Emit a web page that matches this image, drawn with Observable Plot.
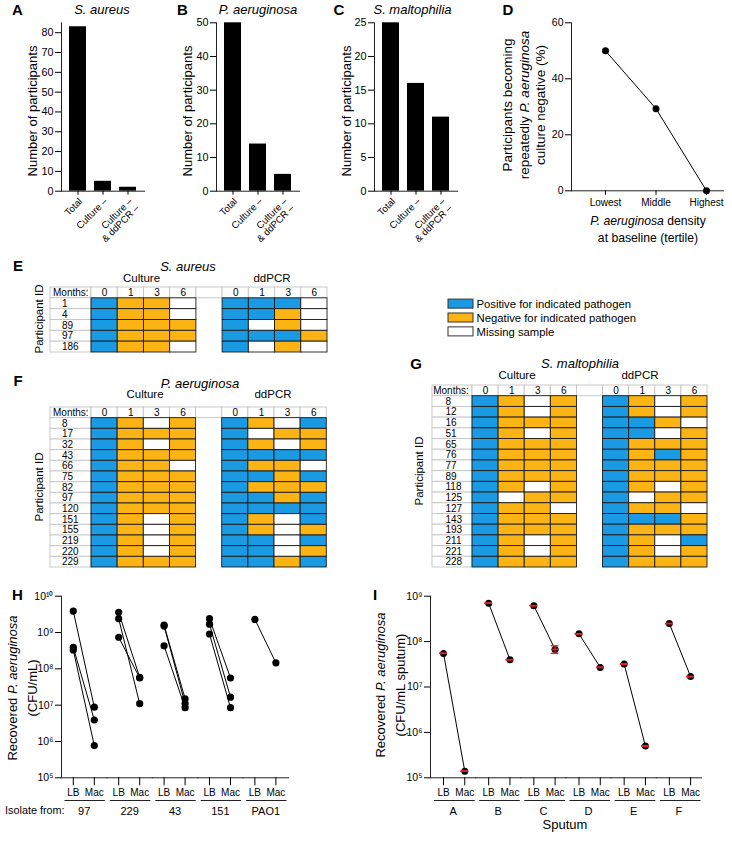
<!DOCTYPE html>
<html><head><meta charset="utf-8">
<script src="https://cdn.jsdelivr.net/npm/d3@7"></script>
<script src="https://cdn.jsdelivr.net/npm/@observablehq/plot@0.6"></script>
<style>
body{margin:0;background:#fff;}
#root{position:relative;width:732px;height:841px;overflow:hidden;background:#fff;font-family:"Liberation Sans",Arial,Helvetica,sans-serif;color:#000;}
.t{position:absolute;white-space:nowrap;transform:translate(-50%,-50%);line-height:1.2;text-align:center;}
.p{position:absolute;}
</style></head><body><div id="root"></div>
<script>
// ---------- data ----------
const barCats = ["Total", "Culture –", "Culture –\n& ddPCR –"];
const saureusCounts = [83, 5, 2];
const paeruginosaCounts = [50, 14, 5];
const smaltophiliaCounts = [25, 16, 11];
const aTicks = [0, 10, 20, 30, 40, 50, 60, 70, 80];
const bTicks = [0, 10, 20, 30, 40, 50];
const cTicks = [0, 5, 10, 15, 20, 25];

const tertiles = ["Lowest", "Middle", "Highest"];
const cultureNegPct = [50, 29.3, 0];
const dTicks = [0, 20, 40, 60];

const months = ["0", "1", "3", "6"];
const statusLabels = ["Positive for indicated pathogen", "Negative for indicated pathogen", "Missing sample"];
// P = positive, N = negative, M = missing ; months 0,1,3,6
const eIds = ["1", "4", "89", "97", "186"];
const eCulture = ["PNNM", "PNNM", "PNNN", "PNNN", "PNNM"];
const eDdpcr = ["PPPM", "PPNM", "PMNM", "PPPN", "PMNM"];
const fIds = ["8", "17", "32", "43", "66", "75", "82", "97", "120", "151", "155", "219", "220", "229"];
const fCulture = ["PNMN", "PNNN", "PNMN", "PNNN", "PNNM", "PNNN", "PNNN", "PNNN", "PNNN", "PNMN", "PNMN", "PNMN", "PNMN", "PNNN"];
const fDdpcr = ["PNMP", "PMNN", "PNMN", "PPPP", "PNNM", "PPNP", "PNNN", "PPNP", "PPPP", "PNMP", "PNMN", "PPMP", "PPMN", "PPNP"];
const gIds = ["8", "12", "16", "51", "65", "76", "77", "89", "118", "125", "127", "143", "193", "211", "221", "228"];
const gCulture = ["PNMN", "PNMN", "PNNN", "PNMN", "PNNN", "PNNN", "PNNN", "PNNN", "PNMN", "PMNN", "PNNM", "PNNN", "PNNN", "PNMN", "PNMN", "PNNN"];
const gDdpcr = ["PNMN", "PNMN", "PPNM", "PPMN", "PNNN", "PNPN", "PNNN", "PNNN", "PNMN", "PMNN", "PNNM", "PPPN", "PNNN", "PNMP", "PNMN", "PNNN"];

const media = ["LB", "Mac"];
const hGroups = ["97", "229", "43", "151", "PAO1"];
const hLB = [[3.9e9, 3.9e8, 3.3e8], [3.6e9, 2.4e9, 7.4e8], [1.6e9, 1.5e9, 4.3e8], [2.4e9, 1.7e9, 9.1e8], [2.3e9]];
const hMac = [[8.8e6, 3.9e6, 7.7e5], [5.8e7, 1.1e7, 5.6e7], [1.5e7, 1.1e7, 8.5e6], [5.6e7, 1.66e7, 8.5e6], [1.46e8]];
const hTicks = [1e5, 1e6, 1e7, 1e8, 1e9, 1e10];

const iGroups = ["A", "B", "C", "D", "E", "F"];
const iLB = [5.5e7, 7.0e8, 6.2e8, 1.48e8, 3.2e7, 2.5e8];
const iMac = [1.4e5, 4.0e7, 6.7e7, 2.7e7, 5.0e5, 1.7e7];
const iMacLo = [1.4e5, 4.0e7, 5.5e7, 2.7e7, 5.0e5, 1.7e7];
const iMacHi = [1.4e5, 4.0e7, 8.1e7, 2.7e7, 5.0e5, 1.7e7];
const iTicks = [1e5, 1e6, 1e7, 1e8, 1e9];

// ---------- styles ----------
const FONT = '"Liberation Sans", Arial, Helvetica, sans-serif';
const BLUE = "#1a9ae3", ORANGE = "#fcb414", RED = "#e8202a";
const baseStyle = {fontFamily: FONT, fontSize: "10px", background: "transparent", overflow: "visible", maxWidth: "none", color: "black"};
const root = document.getElementById("root");

function place(node, left, top) {
  const d = document.createElement("div");
  d.className = "p"; d.style.left = left + "px"; d.style.top = top + "px";
  d.appendChild(node); root.appendChild(d);
}
function txt(html, x, y, o = {}) {
  const d = document.createElement("div");
  d.className = "t"; d.style.left = x + "px"; d.style.top = y + "px";
  d.style.fontSize = (o.size || 12) + "px";
  if (o.bold) d.style.fontWeight = "bold";
  if (o.italic) d.style.fontStyle = "italic";
  if (o.rot) d.style.transform = "translate(-50%,-50%) rotate(-90deg)";
  if (o.lh) d.style.lineHeight = o.lh + "px";
  d.innerHTML = html; root.appendChild(d);
}
const SUP = "⁰¹²³⁴⁵⁶⁷⁸⁹";
const supFmt = d => "10" + String(Math.round(Math.log10(d))).split("").map(c => SUP[+c]).join("");

// ---------- A, B, C bar panels ----------
function barPanel(counts, ymax, ticks) {
  const data = barCats.map((c, i) => ({c, n: counts[i]}));
  return Plot.plot({
    width: 150, height: 245, marginLeft: 61, marginRight: 6, marginTop: 22.3, marginBottom: 54.3,
    style: baseStyle,
    x: {domain: barCats, padding: 0.32, round: false, label: null},
    y: {domain: [0, ymax], label: null},
    marks: [
      Plot.barY(data, {x: "c", y: "n", fill: "black"}),
      Plot.frame({anchor: "left", stroke: "#222"}),
      Plot.frame({anchor: "bottom", stroke: "#222"}),
      Plot.axisY({ticks, tickSize: 6, tickPadding: 2, fontSize: 10.8, label: null}),
      Plot.axisX({tickSize: 4, tickPadding: 2, tickRotate: -45, textAnchor: "end", lineAnchor: "top", fontSize: 9.6, label: null})
    ]
  });
}
place(barPanel(saureusCounts, 85, aTicks), 0, 0);
place(barPanel(paeruginosaCounts, 50, bTicks), 155, 0);
place(barPanel(smaltophiliaCounts, 25, cTicks), 313, 0);

txt("A", 17.5, 10, {size: 15, bold: true});
txt("B", 182.5, 10, {size: 15, bold: true});
txt("C", 339, 10, {size: 15, bold: true});
txt("D", 508, 10, {size: 15, bold: true});
txt("S. aureus", 102, 10, {size: 13, italic: true});
txt("P. aeruginosa", 258, 10, {size: 13, italic: true});
txt("S. maltophilia", 412.5, 10, {size: 13, italic: true});
txt("Number of participants", 32.5, 111, {size: 13, rot: true});
txt("Number of participants", 188, 111, {size: 13, rot: true});
txt("Number of participants", 347, 111, {size: 13, rot: true});

// ---------- D ----------
const dData = tertiles.map((t, i) => ({t, v: cultureNegPct[i]}));
place(Plot.plot({
  width: 220, height: 245, marginLeft: 61, marginRight: 7, marginTop: 22.3, marginBottom: 54.7,
  style: baseStyle,
  x: {type: "point", domain: tertiles, padding: 0.505, align: 0.667, round: false, label: null},
  y: {domain: [0, 60], label: null},
  marks: [
    Plot.frame({anchor: "left", stroke: "#222"}),
    Plot.frame({anchor: "bottom", stroke: "#222"}),
    Plot.axisY({ticks: dTicks, tickSize: 6, tickPadding: 2, fontSize: 10.5, label: null}),
    Plot.axisX({tickSize: 4.5, tickPadding: 4, fontSize: 10, label: null}),
    Plot.line(dData, {x: "t", y: "v", stroke: "black", strokeWidth: 1}),
    Plot.dot(dData, {x: "t", y: "v", r: 3.5, fill: "black"})
  ]
}), 510, 0);
txt("Participants becoming<br>repeatedly <i>P. aeruginosa</i><br>culture negative (%)", 525, 105, {size: 13.5, rot: true, lh: 16.5});
txt("<i>P. aeruginosa</i> density<br>at baseline (tertile)", 648, 229.5, {size: 12.2, lh: 17});

// ---------- legend ----------
place(Plot.plot({
  width: 290, height: 50, marginLeft: 8, marginRight: 257, marginTop: 2.25, marginBottom: 1.25,
  style: baseStyle,
  y: {domain: statusLabels, padding: 0.35, round: false, axis: null},
  color: {domain: statusLabels, range: [BLUE, ORANGE, "#fff"]},
  marks: [
    Plot.cell(statusLabels, {y: d => d, fill: d => d, stroke: "#333", strokeWidth: 1}),
    Plot.text(statusLabels, {y: d => d, text: d => d, frameAnchor: "right", textAnchor: "start", dx: 3, fontSize: 11.3})
  ]
}), 440, 292);

// ---------- grids E, F, G ----------
const cols = ["C0", "C1", "C3", "C6", "gap", "D0", "D1", "D3", "D6"];
function grid(ids, cult, dd, o) {
  const rowsAll = ["Months:", ...ids];
  const cells = [];
  ids.forEach((id, i) => months.forEach((m, j) => {
    cells.push({id, col: "C" + m, s: cult[i][j]});
    cells.push({id, col: "D" + m, s: dd[i][j]});
  }));
  const hdr = cols.filter(c => c !== "gap");
  return Plot.plot({
    width: 46 + o.fw + 3, height: o.h, marginLeft: 46, marginRight: 3, marginTop: 7, marginBottom: 5,
    style: baseStyle,
    x: {domain: cols, padding: 0, round: false, axis: null},
    y: {domain: rowsAll, padding: 0, round: false, axis: null},
    color: {domain: ["P", "N", "M"], range: [BLUE, ORANGE, "#fff"]},
    marks: [
      Plot.cell(rowsAll, {y: d => d, fill: "white", stroke: "#c4c4c4", strokeWidth: 0.9, insetLeft: -o.lw, insetRight: o.fw}),
      Plot.cell(cols, {x: d => d, y: () => "Months:", fill: "white", stroke: "#c4c4c4", strokeWidth: 0.9}),
      Plot.cell(cells, {x: "col", y: "id", fill: "s", stroke: "#1a1a1a", strokeWidth: 0.9}),
      Plot.text(hdr, {x: d => d, y: () => "Months:", text: d => d.slice(1), fontSize: 10}),
      Plot.text(ids, {y: d => d, text: d => d, frameAnchor: "left", textAnchor: "start", dx: o.idx, fontSize: 10}),
      Plot.text(["Months:"], {y: d => d, text: d => d, frameAnchor: "left", textAnchor: "start", dx: o.mx, fontSize: 10})
    ]
  });
}
place(grid(eIds, eCulture, eDdpcr, {fw: 236, h: 77, lw: 41, idx: -29.5, mx: -38.5}), 45, 280);
place(grid(fIds, fCulture, fDdpcr, {fw: 235.3, h: 172, lw: 41, idx: -29.5, mx: -38.5}), 45, 400);
place(grid(gIds, gCulture, gDdpcr, {fw: 235, h: 194, lw: 40, idx: -27, mx: -39.3}), 426, 378);

txt("E", 18, 266, {size: 15, bold: true});
txt("S. aureus", 188, 267, {size: 13, italic: true});
txt("Culture", 141.5, 278.5, {size: 11.5});
txt("ddPCR", 272, 278.5, {size: 11.5});
txt("Participant ID", 40, 319, {size: 11.5, rot: true});

txt("F", 18, 381, {size: 15, bold: true});
txt("P. aeruginosa", 200, 383.5, {size: 13, italic: true});
txt("Culture", 145, 395, {size: 11.5});
txt("ddPCR", 273, 395, {size: 11.5});
txt("Participant ID", 40, 486.5, {size: 11.5, rot: true});

txt("G", 416, 364, {size: 15, bold: true});
txt("S. maltophilia", 580, 364, {size: 13, italic: true});
txt("Culture", 517, 376, {size: 11.5});
txt("ddPCR", 640, 376, {size: 11.5});
txt("Participant ID", 419.5, 471, {size: 11.5, rot: true});

// ---------- H ----------
const hTable = [];
hGroups.forEach((g, gi) => hLB[gi].forEach((v, ri) => {
  hTable.push({g, rep: g + "-" + ri, m: "LB", v});
  hTable.push({g, rep: g + "-" + ri, m: "Mac", v: hMac[gi][ri]});
}));
place(Plot.plot({
  width: 290, height: 240, marginLeft: 61, marginRight: 2, marginTop: 15.7, marginBottom: 42.7,
  style: baseStyle,
  fx: {domain: hGroups, padding: 0, round: false, label: null},
  x: {type: "band", domain: media, paddingInner: 0.643, paddingOuter: 0.402, align: 0.476, round: false, label: null},
  y: {type: "log", domain: [1e5, 1e10], label: null},
  marks: [
    Plot.frame({anchor: "left", facetAnchor: "left", stroke: "#222"}),
    Plot.frame({anchor: "bottom", stroke: "#222"}),
    Plot.frame({anchor: "bottom", insetBottom: -22.7, insetLeft: 3.5, insetRight: 2.5, stroke: "#222"}),
    Plot.axisY({ticks: hTicks, tickFormat: supFmt, tickSize: 6, tickPadding: 2, fontSize: 10.5, label: null}),
    Plot.axisX({tickSize: 8, tickPadding: 3.5, fontSize: 10, label: null}),
    Plot.axisFx({anchor: "bottom", tickSize: 0, tickPadding: 29.4, fontSize: 11, label: null}),
    Plot.line(hTable, {fx: "g", x: "m", y: "v", z: "rep", stroke: "black", strokeWidth: 1}),
    Plot.dot(hTable, {fx: "g", x: "m", y: "v", r: 3.6, fill: "black"})
  ]
}), 0, 580);
txt("H", 17.5, 595, {size: 15, bold: true});
txt("Recovered <i>P. aeruginosa</i><br>(CFU/mL)", 22, 687.5, {size: 13, rot: true, lh: 19.5});
txt("Isolate from:", 34.8, 810, {size: 10.8});

// ---------- I ----------
const iTable = [];
iGroups.forEach((g, gi) => {
  iTable.push({g, m: "LB", v: iLB[gi], lo: iLB[gi], hi: iLB[gi]});
  iTable.push({g, m: "Mac", v: iMac[gi], lo: iMacLo[gi], hi: iMacHi[gi]});
});
place(Plot.plot({
  width: 332, height: 240, marginLeft: 61, marginRight: 0, marginTop: 15.7, marginBottom: 42.7,
  style: baseStyle,
  fx: {domain: iGroups, padding: 0, round: false, label: null},
  x: {type: "band", domain: media, paddingInner: 0.643, paddingOuter: 0.383, align: 0.565, round: false, label: null},
  y: {type: "log", domain: [1e5, 1e9], label: null},
  marks: [
    Plot.frame({anchor: "left", facetAnchor: "left", stroke: "#222"}),
    Plot.frame({anchor: "bottom", stroke: "#222"}),
    Plot.frame({anchor: "bottom", insetBottom: -22.7, insetLeft: 4, insetRight: 1.5, stroke: "#222"}),
    Plot.axisY({ticks: iTicks, tickFormat: supFmt, tickSize: 6, tickPadding: 2, fontSize: 10.5, label: null}),
    Plot.axisX({tickSize: 8, tickPadding: 3.5, fontSize: 10, label: null}),
    Plot.axisFx({anchor: "bottom", tickSize: 0, tickPadding: 29.4, fontSize: 11, label: null}),
    Plot.line(iTable, {fx: "g", x: "m", y: "v", z: "g", stroke: "black", strokeWidth: 1}),
    Plot.dot(iTable, {fx: "g", x: "m", y: "v", r: 3.5, fill: "black"}),
    Plot.ruleX(iTable, {fx: "g", x: "m", y1: "lo", y2: "hi", stroke: RED, strokeWidth: 1.2}),
    Plot.tickY(iTable, {fx: "g", x: "m", y: "lo", stroke: RED, strokeWidth: 1.3}),
    Plot.tickY(iTable, {fx: "g", x: "m", y: "hi", stroke: RED, strokeWidth: 1.3}),
    Plot.tickY(iTable, {fx: "g", x: "m", y: "v", stroke: RED, strokeWidth: 1.6})
  ]
}), 369, 580);
txt("I", 375, 595, {size: 15, bold: true});
txt("Recovered <i>P. aeruginosa</i><br>(CFU/mL sputum)", 389.5, 685, {size: 13, rot: true, lh: 19.5});
txt("Sputum", 565, 825, {size: 13});
</script></body></html>
